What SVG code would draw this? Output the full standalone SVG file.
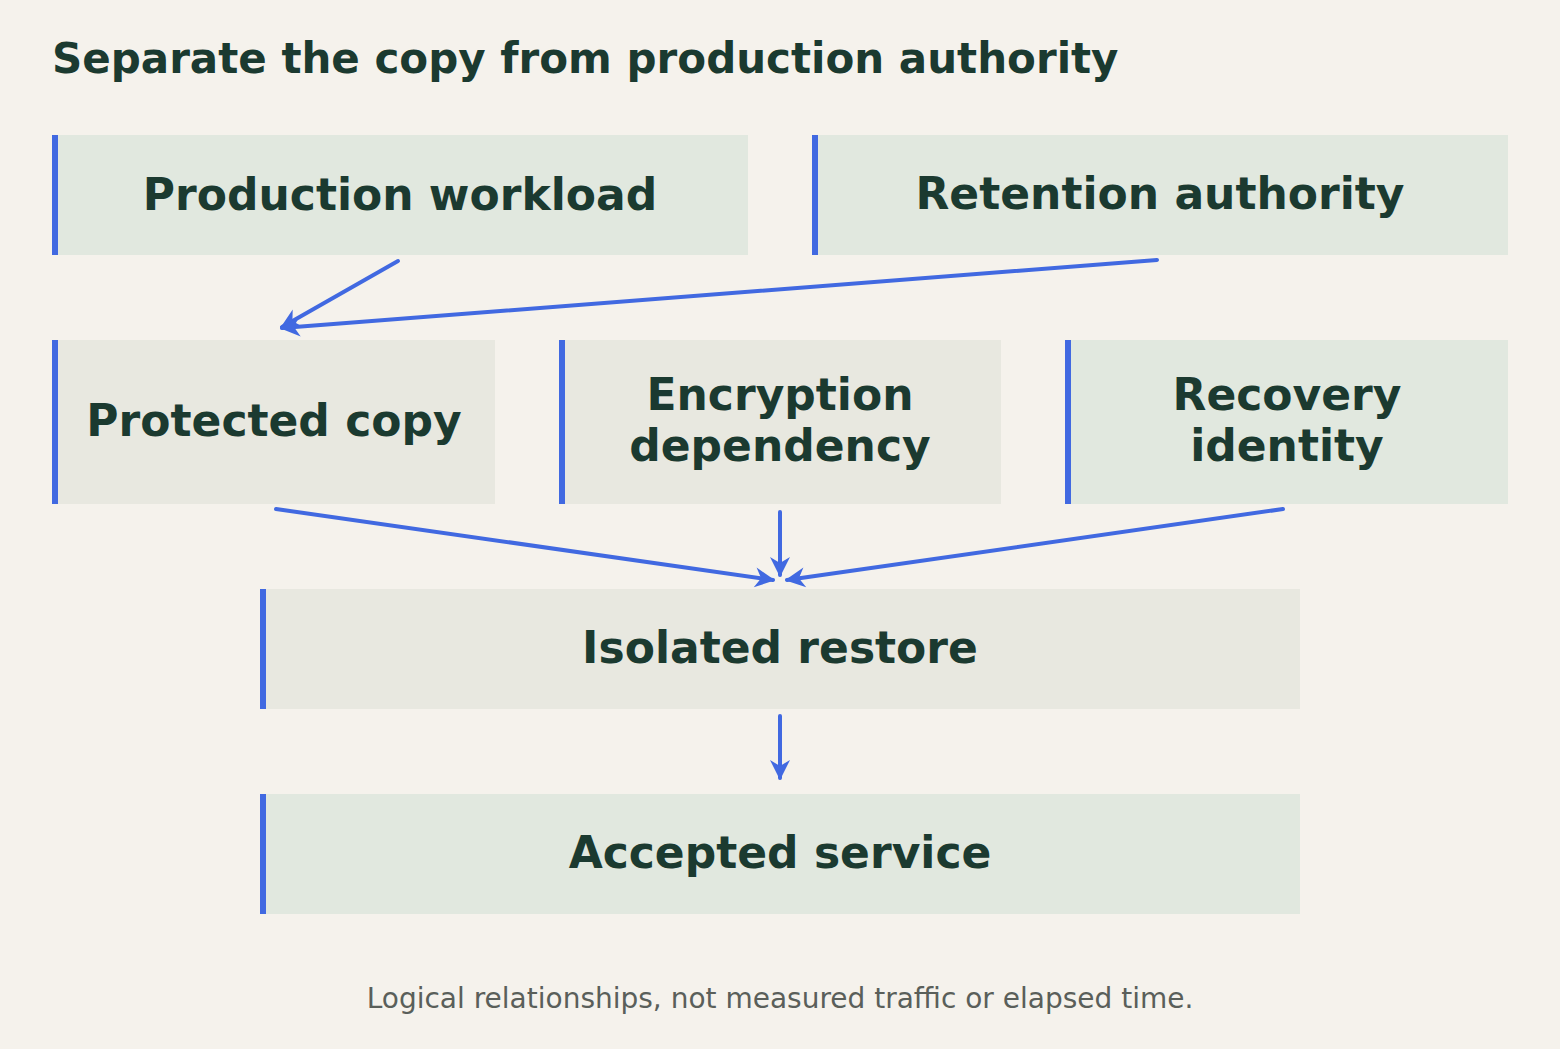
<svg xmlns="http://www.w3.org/2000/svg" width="1560" height="1049" viewBox="0 0 1560 1049">
<style>
.t{font-family:"DejaVu Sans",sans-serif;font-weight:bold;fill:#1b3a30}
.n{font-size:44px;text-anchor:middle}
.a{fill:#e1e8df}.b{fill:#e8e8e0}.bar{fill:#4169e1}
.c{stroke:#4169e1;stroke-width:4;fill:none;stroke-linecap:round}
</style>
<defs><marker id="h" viewBox="0 0 10 10" refX="9" refY="5" markerWidth="6" markerHeight="6" markerUnits="userSpaceOnUse" orient="auto" style="overflow:visible"><path d="M-2,-8 L22,5 L-2,18 L4,5 Z" fill="#4169e1" transform="scale(0.45) translate(10,6)"/></marker>
<marker id="m" markerWidth="24" markerHeight="24" refX="20" refY="12" orient="auto" markerUnits="userSpaceOnUse"><path d="M2,2 L22,12 L2,22 L8,12 Z" fill="#4169e1"/></marker></defs>
<rect width="1560" height="1049" fill="#f5f2ec"/>
<text class="t" x="52" y="73" font-size="42">Separate the copy from production authority</text>
<g id="production"><rect class="a" x="52" y="135" width="696" height="120"/><rect class="bar" x="52" y="135" width="6" height="120"/><text class="t n" x="400" y="210">Production workload</text></g>
<g id="retention"><rect class="a" x="812" y="135" width="696" height="120"/><rect class="bar" x="812" y="135" width="6" height="120"/><text class="t n" x="1160" y="209">Retention authority</text></g>
<g id="protected"><rect class="b" x="52" y="340" width="443" height="164"/><rect class="bar" x="52" y="340" width="6" height="164"/><text class="t n" x="274" y="436">Protected copy</text></g>
<g id="encryption"><rect class="b" x="559" y="340" width="442" height="164"/><rect class="bar" x="559" y="340" width="6" height="164"/><text class="t n" x="780" y="410">Encryption</text><text class="t n" x="780" y="461">dependency</text></g>
<g id="recovery"><rect class="a" x="1065" y="340" width="443" height="164"/><rect class="bar" x="1065" y="340" width="6" height="164"/><text class="t n" x="1287" y="410">Recovery</text><text class="t n" x="1287" y="461">identity</text></g>
<g id="restore"><rect class="b" x="260" y="589" width="1040" height="120"/><rect class="bar" x="260" y="589" width="6" height="120"/><text class="t n" x="780" y="663">Isolated restore</text></g>
<g id="service"><rect class="a" x="260" y="794" width="1040" height="120"/><rect class="bar" x="260" y="794" width="6" height="120"/><text class="t n" x="780" y="868">Accepted service</text></g>
<g id="connectors" class="c">
<line x1="398" y1="261" x2="282" y2="327" marker-end="url(#m)"/>
<line x1="1157" y1="260" x2="282" y2="328" marker-end="url(#m)"/>
<line x1="276" y1="509" x2="773" y2="580" marker-end="url(#m)"/>
<line x1="780" y1="512" x2="780" y2="575" marker-end="url(#m)"/>
<line x1="1283" y1="509" x2="787" y2="580" marker-end="url(#m)"/>
<line x1="780" y1="716" x2="780" y2="778" marker-end="url(#m)"/>
</g>
<text x="780" y="1008" font-family="DejaVu Sans,sans-serif" font-size="28" fill="#5a5f5a" text-anchor="middle">Logical relationships, not measured traffic or elapsed time.</text>
</svg>
